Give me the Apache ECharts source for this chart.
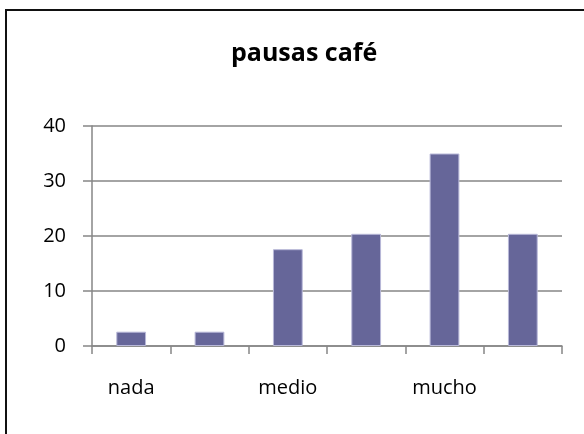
<!DOCTYPE html>
<html lang="es" style="height: 100%">
<head>
  <meta charset="utf-8">
</head>
<body style="height: 100%; margin: 0; background: #fff">
  <div id="container" style="width: 584px; height: 434px"></div>

  <script type="text/javascript" src="https://cdn.jsdelivr.net/npm/echarts@6/dist/echarts.min.js"></script>

  <script type="text/javascript">
    // datos
    var categories = ['nada', '', 'medio', '', 'mucho', ''];
    var values = [2.6, 2.6, 17.6, 20.4, 35, 20.4];
    var yTicks = [0, 10, 20, 30, 40];

    var dom = document.getElementById('container');
    var myChart = echarts.init(dom, null, { renderer: 'canvas' });

    var option = {
      animation: false,
      backgroundColor: '#fff',
      title: {
        text: 'pausas café',
        left: 226,
        top: 36,
        textStyle: {
          fontFamily: 'Open Sans',
          fontWeight: 'bold',
          fontSize: 25,
          color: '#000'
        }
      },
      graphic: [
        {
          type: 'rect',
          shape: { x: 6, y: 10, width: 700, height: 600 },
          style: { fill: 'none', stroke: '#111', lineWidth: 2 },
          silent: true
        }
      ],
      grid: {
        left: 92,
        right: 22,
        top: 126,
        bottom: 88
      },
      xAxis: {
        type: 'category',
        data: categories,
        axisLine: { lineStyle: { color: '#868686', width: 1.5 } },
        axisTick: { show: true, length: 8, lineStyle: { color: '#868686', width: 1.5 } },
        axisLabel: {
          interval: 0,
          margin: 32,
          fontFamily: 'Open Sans',
          fontSize: 20,
          color: '#000'
        }
      },
      yAxis: {
        type: 'value',
        min: yTicks[0],
        max: yTicks[yTicks.length - 1],
        interval: 10,
        axisLine: { show: true, lineStyle: { color: '#868686', width: 1.5 } },
        axisTick: { show: true, length: 9, lineStyle: { color: '#868686', width: 1.5 } },
        splitLine: { lineStyle: { color: '#868686', width: 1.5 } },
        axisLabel: {
          margin: 26,
          fontFamily: 'Open Sans',
          fontSize: 20,
          color: '#000'
        }
      },
      series: [
        {
          type: 'bar',
          data: values,
          barWidth: '38%',
          itemStyle: {
            color: '#666699',
            borderColor: '#b8b8d8',
            borderWidth: 1
          }
        }
      ]
    };

    myChart.setOption(option);
    window.addEventListener('resize', myChart.resize);
  </script>
</body>
</html>
